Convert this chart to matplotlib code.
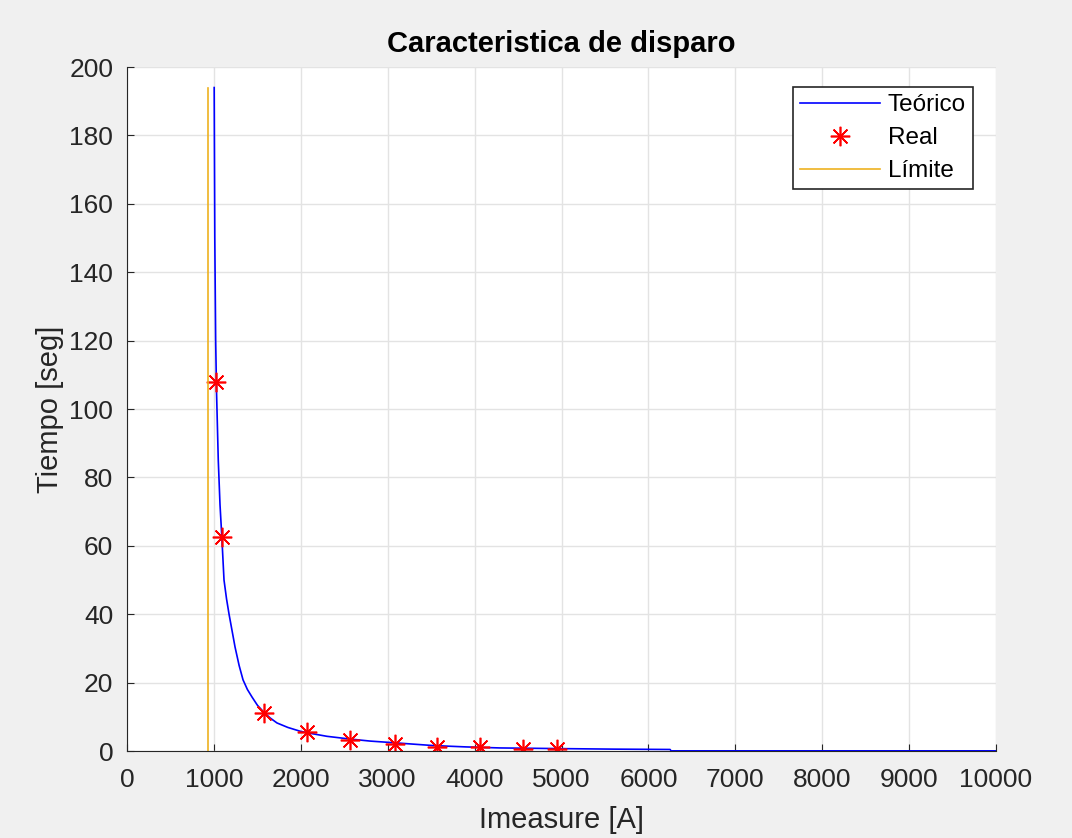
#Trip characteristic: theoretical curve, measured points and limit line.

import matplotlib.pyplot as plt

plt.rcParams['font.family'] = ['Liberation Sans', 'DejaVu Sans']

#Theoretical curve (current in A, time in s).
teorico_I = [1003, 1010, 1020, 1030, 1050, 1070, 1090, 1116, 1145, 1174,
             1210, 1243, 1290, 1335, 1385, 1438, 1500, 1576, 1650, 1726,
             1850, 1990, 2080, 2300, 2566, 2800, 3026, 3520, 3900, 4290,
             5000, 5600, 6250, 6260, 10000]
teorico_t = [194, 150, 120, 105, 85, 72, 63, 50, 44.5, 40,
             35, 30.4, 25, 20.8, 18, 15.8, 13.4, 11.3, 9.6, 8.2,
             6.9, 5.8, 5.3, 4.3, 3.5, 2.9, 2.5, 1.6, 1.2, 0.9,
             0.7, 0.55, 0.45, 0.05, 0.05]

#Measured trip times.
real_I = [1024, 1090, 1576, 2075, 2566, 3084, 3563, 4062, 4553, 4944]
real_t = [107.8, 62.7, 11.2, 5.5, 3.2, 2.0, 1.3, 1.3, 0.6, 0.6]

#Limit line.
limite_I = [935, 935]
limite_t = [0, 194]

fig = plt.figure(figsize=(10.72, 8.38), dpi=100, facecolor='#f0f0f0')
ax = fig.add_axes([0.1185, 0.1038, 0.8106, 0.8162])
ax.set_facecolor('white')

ax.plot(teorico_I, teorico_t, color='#0000ff', lw=1.2, label='Teórico')
ax.plot(real_I, real_t, ls='none', marker=(8, 2, 0), ms=14, mew=1.2,
        color='#ff0000', label='Real')
ax.plot(limite_I, limite_t, color='#edb120', lw=1.2, label='Límite')

ax.set_xlim(0, 10000)
ax.set_ylim(0, 200)
ax.set_xticks(range(0, 10001, 1000))
ax.set_yticks(range(0, 201, 20))
ax.grid(True, color='#e3e3e3', lw=1)
ax.set_axisbelow(True)
for s in ['top', 'right']:
    ax.spines[s].set_visible(False)
for s in ['left', 'bottom']:
    ax.spines[s].set_color('#262626')
ax.tick_params(direction='in', length=5, labelsize=19, colors='#262626')
ax.tick_params(axis='x', pad=12)
ax.tick_params(axis='y', pad=10)

ax.set_title('Caracteristica de disparo', fontsize=21, fontweight='bold',
             color='black', pad=11)
ax.set_xlabel('Imeasure [A]', fontsize=21, color='#262626', labelpad=10)
ax.set_ylabel('Tiempo [seg]', fontsize=21, color='#262626', labelpad=4)

leg = ax.legend(loc='upper right', bbox_to_anchor=(0.9735, 0.971),
                fontsize=17.5, fancybox=False, framealpha=1,
                edgecolor='#262626', handlelength=3.3, borderpad=0.3,
                labelspacing=0.45, handletextpad=0.3, borderaxespad=0)
leg.get_frame().set_linewidth(1.2)

plt.savefig('out.png', dpi=100, facecolor=fig.get_facecolor())
